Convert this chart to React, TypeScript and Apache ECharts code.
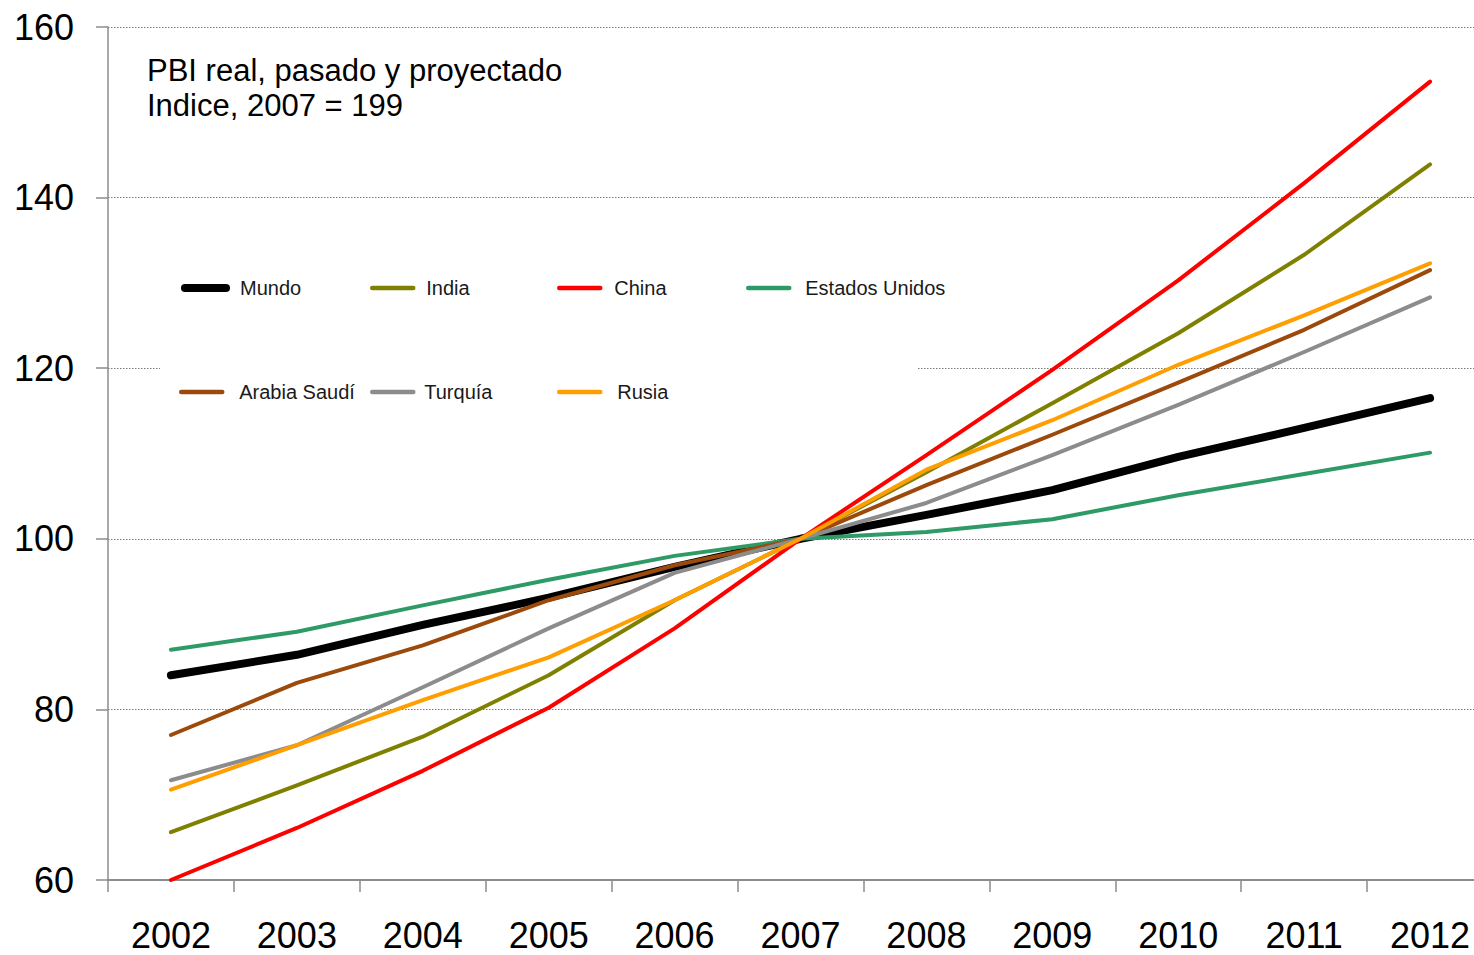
import React, { useEffect, useRef } from "react";
import * as echarts from "echarts";

const years = ["2002", "2003", "2004", "2005", "2006", "2007", "2008", "2009", "2010", "2011", "2012"];

const mundo = [84.0, 86.4, 89.9, 93.1, 96.7, 100, 102.8, 105.7, 109.6, 113.0, 116.5];
const india = [65.6, 71.1, 76.8, 84.0, 92.8, 100, 107.8, 115.9, 124.1, 133.3, 143.9];
const china = [60.0, 66.1, 72.8, 80.2, 89.5, 100, 109.8, 119.8, 130.3, 141.7, 153.6];
const estadosUnidos = [87.0, 89.1, 92.2, 95.2, 98.0, 100, 100.8, 102.3, 105.1, 107.6, 110.1];
const arabiaSaudi = [77.0, 83.1, 87.5, 92.8, 96.9, 100, 106.3, 112.2, 118.3, 124.5, 131.5];
const turquia = [71.7, 75.8, 82.6, 89.5, 96.0, 100, 104.2, 109.8, 115.7, 121.9, 128.3];
const rusia = [70.6, 75.8, 81.1, 86.1, 92.8, 100, 108.1, 113.9, 120.4, 126.2, 132.3];

const seriesNames = ["Mundo", "India", "China", "Estados Unidos", "Arabia Saudí", "Turquía", "Rusia"];
const seriesData = [mundo, india, china, estadosUnidos, arabiaSaudi, turquia, rusia];
const seriesColors = ["#000000", "#808000", "#FF0000", "#2E9A66", "#9C4A0C", "#8C8C8C", "#FF9E00"];
const seriesWidths = [8, 4, 4, 4, 4, 4, 4];
const legendWidths = [8, 4.5, 4.5, 4.5, 4.5, 4.5, 4.5];

const titleLines = ["PBI real, pasado y proyectado", "Indice, 2007 = 199"];

const FONT = "'Liberation Sans', Arial, sans-serif";

// legend layout: icon left edge, row top, and gap before text
const legendIconLeft = [177, 368, 555, 744, 177, 368, 555];
const legendTop = [278, 278, 278, 278, 382, 382, 382];
const legendTextPad = [9, 8, 9, 11, 12, 6, 12];

export default function App() {
  const ref = useRef<HTMLDivElement>(null);

  useEffect(() => {
    if (!ref.current) return;
    const chart = echarts.init(ref.current, undefined, { renderer: "svg" });

    const legends = seriesNames.map((name, i) => ({
      left: legendIconLeft[i] + Math.round(legendWidths[i] / 2),
      top: legendTop[i],
      orient: "horizontal",
      itemWidth: 41,
      itemHeight: 14,
      itemGap: 0,
      padding: 0,
      selectedMode: false,
      data: [name],
      textStyle: {
        fontFamily: FONT,
        fontSize: 20,
        color: "#1a1a1a",
        padding: [0, 0, 0, legendTextPad[i]],
      },
      itemStyle: { opacity: 0, borderWidth: 0 },
      lineStyle: { width: legendWidths[i], cap: "round", color: seriesColors[i], opacity: 1 },
    }));

    chart.setOption({
      animation: false,
      backgroundColor: "#ffffff",
      grid: { left: 108, top: 27, width: 1385, height: 853, containLabel: false },
      graphic: [
        {
          type: "rect",
          z: 1,
          shape: { x: 160, y: 355, width: 758, height: 26 },
          style: { fill: "#ffffff" },
        },
        {
          type: "text",
          z: 10,
          x: 147,
          y: 55,
          style: {
            text: titleLines[0],
            font: `31px ${FONT}`,
            fill: "#000",
          },
        },
        {
          type: "text",
          z: 10,
          x: 147,
          y: 90,
          style: {
            text: titleLines[1],
            font: `31px ${FONT}`,
            fill: "#000",
          },
        },
      ],
      legend: legends,
      xAxis: {
        type: "category",
        data: years,
        boundaryGap: true,
        axisLine: { show: true, lineStyle: { color: "#8c8c8c", width: 2 } },
        axisTick: { show: true, length: 12, lineStyle: { color: "#8c8c8c", width: 1.5 } },
        axisLabel: { fontFamily: FONT, fontSize: 36, color: "#000", margin: 37 },
        splitLine: { show: false },
      },
      yAxis: {
        type: "value",
        min: 60,
        max: 160,
        interval: 20,
        axisLine: { show: true, lineStyle: { color: "#8c8c8c", width: 1.5 } },
        axisTick: { show: true, length: 12, lineStyle: { color: "#8c8c8c", width: 1.5 } },
        axisLabel: { fontFamily: FONT, fontSize: 36, color: "#000", margin: 34 },
        splitLine: { show: true, lineStyle: { color: "#7a7a7a", width: 1, type: [1.5, 1.5] } },
      },
      series: seriesNames.map((name, i) => ({
        name,
        type: "line",
        data: seriesData[i],
        symbol: "none",
        smooth: false,
        z: 2 + i * 0.01,
        color: seriesColors[i],
        lineStyle: { color: seriesColors[i], width: seriesWidths[i], cap: "round", join: "round" },
      })),
    });

    return () => chart.dispose();
  }, []);

  return (
    <div style={{ position: "absolute", left: 0, top: 0, width: 1474, height: 955, overflow: "hidden" }}>
      <div ref={ref} style={{ position: "absolute", left: 0, top: 0, width: 1500, height: 955 }} />
    </div>
  );
}
